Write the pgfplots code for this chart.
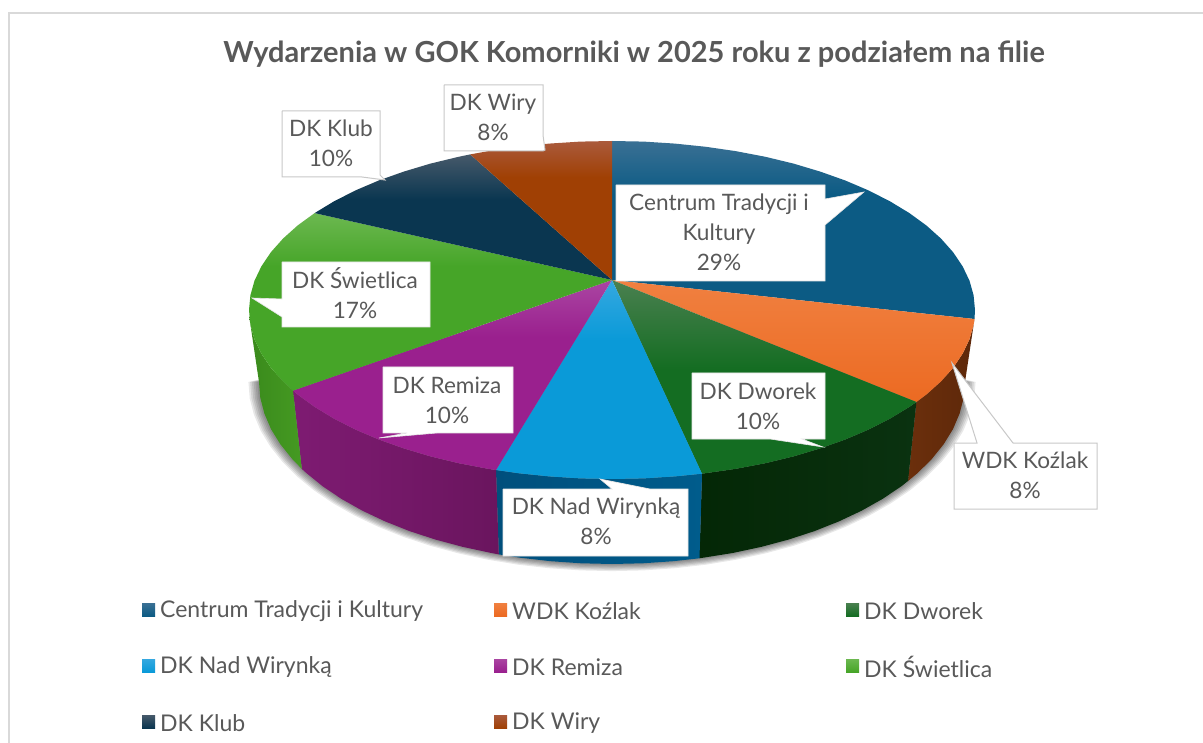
\documentclass[border=0pt]{standalone}
\usepackage{fontspec}
\setmainfont{Lato}
\usepackage{pgfplots}
\usepackage{pgfplotstable}
\pgfplotsset{compat=1.18}
\definecolor{txt}{HTML}{595959}
\definecolor{frm}{HTML}{D9D9D9}
\definecolor{box}{HTML}{C8C8C8}
\definecolor{cA}{HTML}{3A7094}\definecolor{cAb}{HTML}{0C5B84}
\definecolor{kA}{HTML}{F08040}\definecolor{kAb}{HTML}{EC6A22}
\definecolor{dA}{HTML}{4A8050}\definecolor{dAb}{HTML}{146D22}
\definecolor{nA}{HTML}{35A8E0}\definecolor{nAb}{HTML}{0A9AD8}
\definecolor{rA}{HTML}{AA45A2}\definecolor{rAb}{HTML}{9A208E}
\definecolor{sA}{HTML}{6CB850}\definecolor{sAb}{HTML}{46A528}
\definecolor{lA}{HTML}{46596A}\definecolor{lAb}{HTML}{0A3650}
\definecolor{wA}{HTML}{AA5A3C}\definecolor{wAb}{HTML}{A04004}
\definecolor{kW}{HTML}{6B2F0C}\definecolor{kWb}{HTML}{5E280A}
\definecolor{dW}{HTML}{0A3210}\definecolor{dWb}{HTML}{042706}
\definecolor{nW}{HTML}{005C8C}\definecolor{nWb}{HTML}{004F7C}
\definecolor{rW}{HTML}{7E1B72}\definecolor{rWb}{HTML}{6A155E}
\definecolor{sW}{HTML}{3A8A1C}\definecolor{sWb}{HTML}{459A22}
% the light band sits only in the upper part of each face
\pgfdeclareverticalshading{faceC}{100bp}{color(0bp)=(cAb);color(60bp)=(cAb);color(75bp)=(cA);color(100bp)=(cA)}
\pgfdeclareverticalshading{faceD}{100bp}{color(0bp)=(dAb);color(52bp)=(dAb);color(75bp)=(dA);color(100bp)=(dA)}
\pgfdeclareverticalshading{faceN}{100bp}{color(0bp)=(nAb);color(60bp)=(nAb);color(75bp)=(nA);color(100bp)=(nA)}
\pgfdeclareverticalshading{faceR}{100bp}{color(0bp)=(rAb);color(60bp)=(rAb);color(75bp)=(rA);color(100bp)=(rA)}
\pgfdeclareverticalshading{faceS}{100bp}{color(0bp)=(sAb);color(60bp)=(sAb);color(75bp)=(sA);color(100bp)=(sA)}
\pgfdeclareverticalshading{faceL}{100bp}{color(0bp)=(lAb);color(57bp)=(lAb);color(75bp)=(lA);color(100bp)=(lA)}
\pgfdeclareverticalshading{faceW}{100bp}{color(0bp)=(wAb);color(62bp)=(wAb);color(75bp)=(wA);color(100bp)=(wA)}
\pgfplotstableread{
x y
259 382
260.3 397.9
264.4 413.6
271 429.1
280.3 444.2
292.1 458.9
306.3 473
322.8 486.4
341.6 499
362.4 510.7
385.1 521.4
409.5 531.1
435.5 539.6
462.8 546.9
491.3 553
520.6 557.8
550.7 561.2
581.2 563.3
612 564
642.8 563.3
673.3 561.2
703.4 557.8
732.7 553
761.2 546.9
788.5 539.6
814.5 531.1
838.9 521.4
861.6 510.7
882.4 499
901.2 486.4
917.7 473
931.9 458.9
943.7 444.2
953 429.1
959.6 413.6
963.7 397.9
965 382
612 300
259 382
}\shadowrim
\newcommand{\lab}{\fontsize{22.6}{30}\selectfont}
\newcommand{\leg}{\fontsize{23}{25}\selectfont}
\begin{document}
\begin{tikzpicture}
\begin{axis}[
  scale only axis, width=1203pt, height=743pt,
  xmin=0, xmax=1203, ymin=0, ymax=743, y dir=reverse,
  hide axis, clip=true,
  every axis plot/.append style={no markers},
]
% page
\addplot[fill=white, draw=none] coordinates {(0,0)(1203,0)(1203,743)(0,743)(0,0)};
% frame
\addplot[draw=frm, line width=1.5pt] coordinates {(9,743)(9,13)(1203,13)};
% soft shadow under the pie
\pgfplotsinvokeforeach{1,...,6}{
\addplot[fill=black, draw=none, fill opacity=0.09]
  table[x expr={612+(\thisrow{x}-612)*(1+0.005*#1)}, y expr={382+(\thisrow{y}-382)*(1+0.0065*#1)}] {\shadowrim};
}
% walls
\addplot[draw=none, left color=kW, right color=kWb] coordinates {
 (974.5,319)(973.6,324.7)(969.5,339.3)(962.6,353.7)(953.1,367.8)(941,381.4)(926.4,394.5)(916.4,402)
 (908,481)(917.7,473)(931.9,458.9)(943.7,444.2)(953,429.1)(959.6,413.6)(963.7,397.9)(965,382)(974.5,319)};
\addplot[draw=none, left color=dWb, right color=dW] coordinates {
 (916.4,402)(909.4,406.9)(890.1,418.6)(868.7,429.5)(845.3,439.5)(820.2,448.4)(793.5,456.4)(765.4,463.2)(736.1,468.8)(702,473.7)
 (699.5,558.3)(732.7,553)(761.2,546.9)(788.5,539.6)(814.5,531.1)(838.9,521.4)(861.6,510.7)(882.4,499)(901.2,486.4)(908,481)(916.4,402)};
\addplot[draw=none, left color=nWb, right color=nW] coordinates {
 (702,473.7)(675,476.4)(643.7,478.4)(612,479)(580.3,478.4)(549,476.4)(518.1,473.2)(496,470)
 (498.8,554.4)(520.6,557.8)(550.7,561.2)(581.2,563.3)(612,564)(642.8,563.3)(673.3,561.2)(699.5,558.3)(702,473.7)};
\addplot[draw=none, left color=rW, right color=rWb] coordinates {
 (496,470)(487.9,468.8)(458.6,463.2)(430.5,456.4)(403.8,448.4)(378.7,439.5)(355.3,429.5)(333.9,418.6)(314.6,406.9)(297.6,394.5)(293,390.6)
 (301.8,468.9)(306.3,473)(322.8,486.4)(341.6,499)(362.4,510.7)(385.1,521.4)(409.5,531.1)(435.5,539.6)(462.8,546.9)(491.3,553)(498.8,554.4)(496,470)};
\addplot[draw=none, left color=sW, right color=sWb] coordinates {
 (293,390.6)(283,381.4)(270.9,367.8)(261.4,353.7)(254.5,339.3)(250.4,324.7)(249,315)
 (259,382)(260.3,397.9)(264.4,413.6)(271,429.1)(280.3,444.2)(292.1,458.9)(301.8,468.9)(293,390.6)};
% top face: the eight slices
\addplot[draw=none, shading=faceC] coordinates {
 (612,280)(612,141)(643.7,141.6)(675,143.6)(705.9,146.8)(736.1,151.2)(765.4,156.8)(793.5,163.6)(820.2,171.6)(845.3,180.5)(868.7,190.5)(890.1,201.4)(909.4,213.1)(926.4,225.5)(941,238.6)(953.1,252.2)(962.6,266.3)(969.5,280.7)(973.6,295.3)(975,310)(974.5,319)(612,280)};
\addplot[draw=none, top color=kA, bottom color=kAb] coordinates {
 (612,280)(974.5,319)(973.6,324.7)(969.5,339.3)(962.6,353.7)(953.1,367.8)(941,381.4)(926.4,394.5)(916.4,402)(612,280)};
\addplot[draw=none, shading=faceD] coordinates {
 (612,280)(916.4,402)(909.4,406.9)(890.1,418.6)(868.7,429.5)(845.3,439.5)(820.2,448.4)(793.5,456.4)(765.4,463.2)(736.1,468.8)(702,473.7)(612,280)};
\addplot[draw=none, shading=faceN] coordinates {
 (612,280)(702,473.7)(675,476.4)(643.7,478.4)(612,479)(580.3,478.4)(549,476.4)(518.1,473.2)(496,470)(612,280)};
\addplot[draw=none, shading=faceR] coordinates {
 (612,280)(496,470)(487.9,468.8)(458.6,463.2)(430.5,456.4)(403.8,448.4)(378.7,439.5)(355.3,429.5)(333.9,418.6)(314.6,406.9)(297.6,394.5)(293,390.6)(612,280)};
\addplot[draw=none, shading=faceS] coordinates {
 (612,280)(293,390.6)(283,381.4)(270.9,367.8)(261.4,353.7)(254.5,339.3)(250.4,324.7)(249,310)(250.4,295.3)(254.5,280.7)(261.4,266.3)(270.9,252.2)(283,238.6)(297.6,225.5)(314.6,213.1)(612,280)};
\addplot[draw=none, shading=faceL] coordinates {
 (612,280)(314.6,213.1)(333.9,201.4)(355.3,190.5)(378.7,180.5)(403.8,171.6)(430.5,163.6)(458.6,156.8)(470.2,154.4)(612,280)};
\addplot[draw=none, shading=faceW] coordinates {
 (612,280)(470.2,154.4)(487.9,151.2)(518.1,146.8)(549,143.6)(580.3,141.6)(612,141)(612,280)};
% callouts
\addplot[fill=white, draw=box, line width=1pt] coordinates {(444,85)(543,85)(543,135)(545,150)(543,151)(444,151)(444,85)};
\addplot[fill=white, draw=box, line width=1pt] coordinates {(282,111)(380,111)(380,175)(385,180)(362,177)(282,177)(282,111)};
\addplot[fill=white, draw=white!90!black, line width=0.6pt] coordinates {(616,185)(825,185)(825,199)(864,192)(825,225)(825,281)(616,281)(616,185)};
\addplot[fill=white, draw=white!90!black, line width=0.6pt] coordinates {(282,262)(430,262)(430,327)(282,327)(282,317)(252,298)(282,299)(282,262)};
\addplot[fill=white, draw=white!90!black, line width=0.6pt] coordinates {(383,367)(513,367)(513,433)(437,433)(379,438)(407,433)(383,433)(383,367)};
\addplot[fill=white, draw=white!90!black, line width=0.6pt] coordinates {(692,373)(825,373)(825,439)(802,439)(823,447)(770,439)(692,439)(692,373)};
\addplot[fill=white, draw=white!90!black, line width=0.6pt] coordinates {(503,489)(612,489)(600,479)(650,489)(688,489)(688,556)(503,556)(503,489)};
\addplot[fill=white, draw=box, line width=1pt] coordinates {(954,443)(977,443)(952,363)(1013,443)(1097,443)(1097,509)(954,509)(954,443)};
% legend keys
\addplot[draw=none, top color=cA, bottom color=cAb] coordinates {(142,603)(155,603)(155,616)(142,616)(142,603)};
\addplot[draw=none, top color=kA, bottom color=kAb] coordinates {(494,603)(507,603)(507,616)(494,616)(494,603)};
\addplot[draw=none, top color=dA, bottom color=dAb] coordinates {(846,603)(859,603)(859,616)(846,616)(846,603)};
\addplot[draw=none, top color=nA, bottom color=nAb] coordinates {(142,659)(155,659)(155,672)(142,672)(142,659)};
\addplot[draw=none, top color=rA, bottom color=rAb] coordinates {(494,659)(507,659)(507,672)(494,672)(494,659)};
\addplot[draw=none, top color=sA, bottom color=sAb] coordinates {(846,659)(859,659)(859,672)(846,672)(846,659)};
\addplot[draw=none, top color=lA, bottom color=lAb] coordinates {(142,715)(155,715)(155,728)(142,728)(142,715)};
\addplot[draw=none, top color=wA, bottom color=wAb] coordinates {(494,715)(507,715)(507,728)(494,728)(494,715)};
% texts
\node[text=txt, font=\fontsize{29}{34}\selectfont\bfseries, anchor=center] at (axis cs:634,54) {Wydarzenia w GOK Komorniki w 2025 roku z podziałem na filie};
\node[text=txt, font=\lab, align=center] at (axis cs:493,117) {DK Wiry\\8\%};
\node[text=txt, font=\lab, align=center] at (axis cs:331,143) {DK Klub\\10\%};
\node[text=txt, font=\lab, align=center] at (axis cs:719,232) {Centrum Tradycji i\\Kultury\\29\%};
\node[text=txt, font=\lab, align=center] at (axis cs:355,293) {DK Świetlica\\17\%};
\node[text=txt, font=\lab, align=center] at (axis cs:447,400) {DK Remiza\\10\%};
\node[text=txt, font=\lab, align=center] at (axis cs:758,406) {DK Dworek\\10\%};
\node[text=txt, font=\lab, align=center] at (axis cs:596,521) {DK Nad Wirynką\\8\%};
\node[text=txt, font=\lab, align=center] at (axis cs:1025,475) {WDK Koźlak\\8\%};
\node[text=txt, font=\leg, anchor=west, inner sep=0pt] at (axis cs:160,611) {Centrum Tradycji i Kultury};
\node[text=txt, font=\leg, anchor=west, inner sep=0pt] at (axis cs:512,611) {WDK Koźlak};
\node[text=txt, font=\leg, anchor=west, inner sep=0pt] at (axis cs:864,611) {DK Dworek};
\node[text=txt, font=\leg, anchor=west, inner sep=0pt] at (axis cs:160,667) {DK Nad Wirynką};
\node[text=txt, font=\leg, anchor=west, inner sep=0pt] at (axis cs:512,667) {DK Remiza};
\node[text=txt, font=\leg, anchor=west, inner sep=0pt] at (axis cs:864,667) {DK Świetlica};
\node[text=txt, font=\leg, anchor=west, inner sep=0pt] at (axis cs:160,723) {DK Klub};
\node[text=txt, font=\leg, anchor=west, inner sep=0pt] at (axis cs:512,723) {DK Wiry};
\end{axis}
\end{tikzpicture}
\end{document}
